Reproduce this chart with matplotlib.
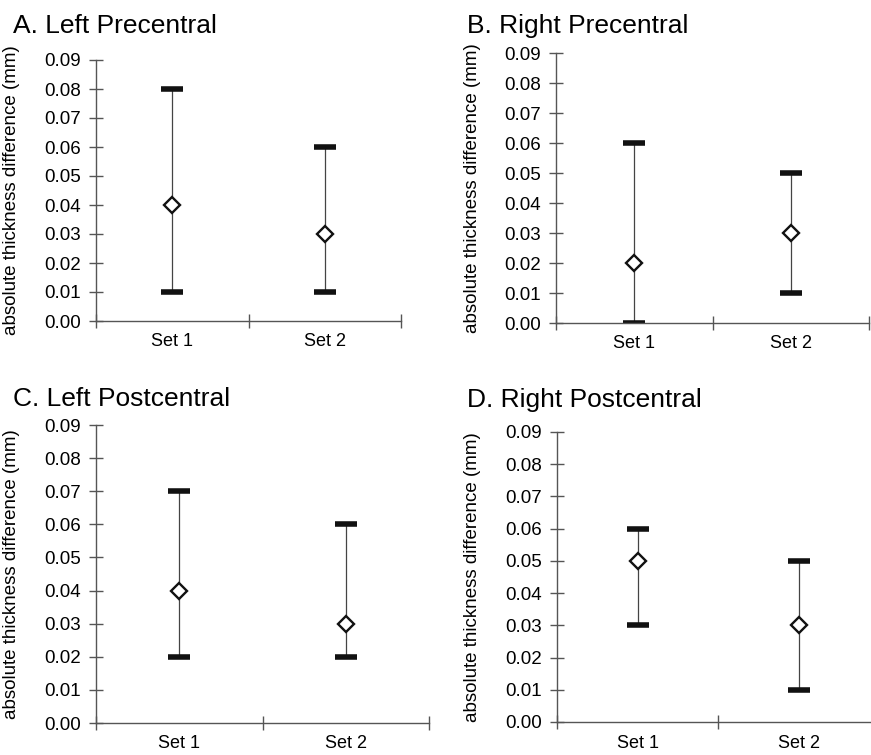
import numpy as np
import matplotlib
matplotlib.use("Agg")
import matplotlib.pyplot as plt

plt.rcParams['font.family'] = ['Liberation Sans', 'DejaVu Sans']

# data
sets = ['Set 1', 'Set 2']
titles = ['A. Left Precentral', 'B. Right Precentral',
          'C. Left Postcentral', 'D. Right Postcentral']
means = [[0.04, 0.03], [0.02, 0.03], [0.04, 0.03], [0.05, 0.03]]
lows = [[0.01, 0.01], [0.00, 0.01], [0.02, 0.02], [0.03, 0.01]]
highs = [[0.08, 0.06], [0.06, 0.05], [0.07, 0.06], [0.06, 0.05]]
yticks = [0.00, 0.01, 0.02, 0.03, 0.04, 0.05, 0.06, 0.07, 0.08, 0.09]

W, H = 871, 755
fig = plt.figure(figsize=(W / 100, H / 100), dpi=100)

# axes boxes in pixels: left, right, top (0.09), bottom (0.00)
boxes = [(96, 401, 60, 321), (556, 869, 53, 323),
         (96, 429, 425, 723), (557, 879, 432, 722)]
# title anchor in pixels (left, baseline)
title_pos = [(13, 33), (467, 33), (13, 406), (467, 407)]

axcol = '#555555'
for i in range(4):
    l, r, t, b = boxes[i]
    ax = fig.add_axes([l / W, 1 - b / H, (r - l) / W, (b - t) / H])
    x = np.arange(len(sets)) + 0.5
    m = np.array(means[i])
    lo = m - np.array(lows[i])
    hi = np.array(highs[i]) - m
    eb = ax.errorbar(x, m, yerr=[lo, hi], fmt='none', ecolor='#444444',
                     elinewidth=0.9, capsize=8, capthick=4, zorder=2)
    for cap in eb[1]:
        cap.set_markeredgecolor('#111111')
        cap.set_markerfacecolor('#111111')
    ax.plot(x, m, 'D', ms=8, mfc='white', mec='#111111', mew=1.7,
            zorder=3, clip_on=False)
    ax.set_xlim(0, 2)
    ax.set_ylim(0, 0.09)
    ax.set_yticks(yticks)
    ax.set_yticklabels(['%.2f' % v for v in yticks], fontsize=13.5)
    ax.set_xticks([0, 1, 2])
    ax.set_xticklabels([])
    ax.set_xticks(x, minor=True)
    ax.set_xticklabels(sets, minor=True, fontsize=13)
    ax.tick_params(axis='x', which='minor', length=0, pad=9)
    ax.tick_params(axis='x', which='major', direction='inout', length=10,
                   width=1, color=axcol)
    ax.tick_params(axis='y', direction='inout', length=10, width=1,
                   color=axcol, pad=6)
    for s in ['top', 'right']:
        ax.spines[s].set_visible(False)
    for s in ['left', 'bottom']:
        ax.spines[s].set_color(axcol)
        ax.spines[s].set_linewidth(1)
    ax.set_ylabel('absolute thickness difference (mm)', fontsize=13.5)
    ax.yaxis.set_label_coords((20 + (0 if i % 2 == 0 else 461) - l) / (r - l), 0.5)
    fig.text(title_pos[i][0] / W, 1 - title_pos[i][1] / H, titles[i],
             fontsize=19, ha='left', va='baseline')

fig.savefig('out.png', dpi=100)
